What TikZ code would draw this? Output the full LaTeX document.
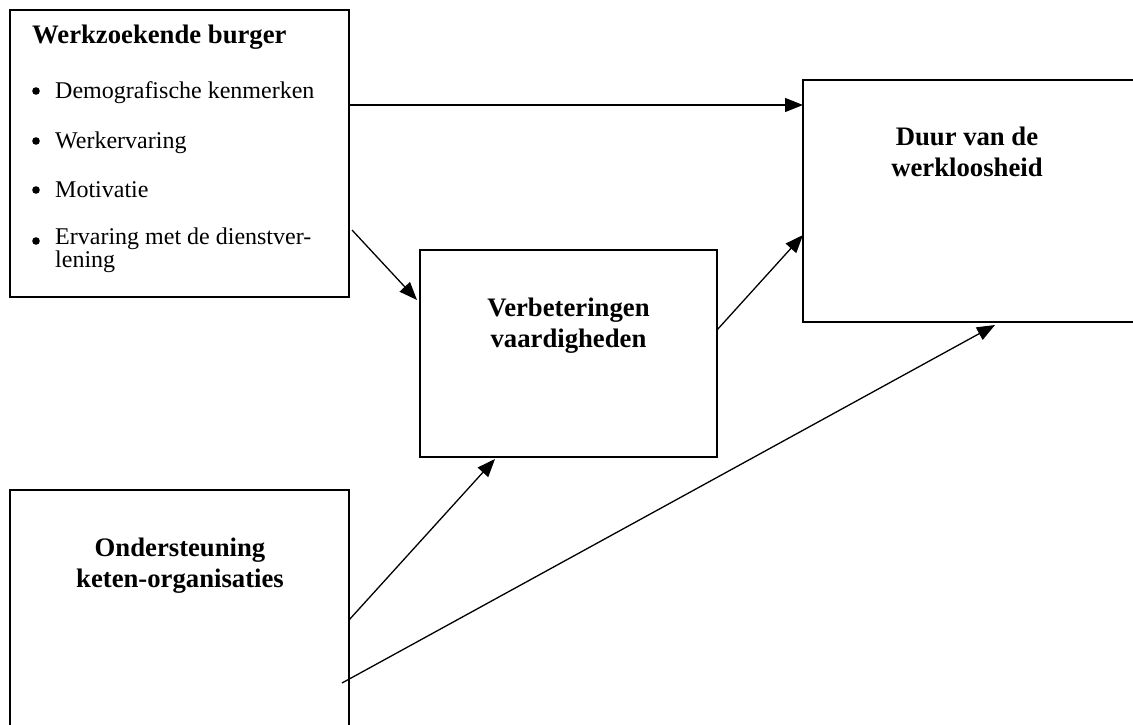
\documentclass[tikz,border=0pt]{standalone}
\usepackage{fontspec}
\setmainfont{Liberation Serif}
\usepackage{tikz}
\usetikzlibrary{arrows.meta,calc,positioning}

\begin{document}
\begin{tikzpicture}[x=1pt,y=-1pt,
    blok/.style={draw, line width=1.6pt, inner sep=0pt, outer sep=0pt},
    kop/.style={font=\fontsize{26.7}{31}\selectfont\bfseries, align=center, inner sep=0pt},
    punt/.style={font=\fontsize{24}{19}\selectfont, align=left, inner sep=0pt, anchor=base west},
    pijl/.style={line width=1.3pt, -{Triangle[length=18pt,width=14pt]}}]
  \useasboundingbox (0,0) rectangle (1133,724);

  % blokken
  \node[blok, minimum width=339pt, minimum height=287pt] (burger) at (179.5,153.5) {};
  \node[blok, minimum width=297pt, minimum height=207pt] (verb) at (568.5,353.5) {};
  \node[blok, minimum width=342pt, minimum height=242pt] (duur) at (974,201) {};
  \node[blok, minimum width=339pt, minimum height=260pt] (onder) at (179.5,620) {};

  % teksten (base = laatste regel)
  \node[kop, anchor=base west] (burgertitel) at (32,43) {Werkzoekende burger};
  \node[punt] (p1) at (55,98) {Demografische kenmerken};
  \node[punt] (p2) at (55,148) {Werkervaring};
  \node[punt] (p3) at (55,197) {Motivatie};
  \node[punt] (p4) at (55,267) {Ervaring met de dienstver-\\lening};
  \foreach \y in {91,141,190,241} {
    \fill[black] (36,\y) circle (3.8pt);
  }
  \node[kop, anchor=base] (verbtekst) at (568.5,347) {Verbeteringen\\vaardigheden};
  \node[kop, anchor=base] (duurtekst) at (967,176) {Duur van de\\werkloosheid};
  \node[kop, anchor=base] (ondertekst) at (180,587) {Ondersteuning\\keten-organisaties};

  % pijlen
  \draw[pijl] ([yshift=-95pt]burger.north east) -- ([yshift=-25pt]duur.north west);
  \draw[pijl] ([xshift=3pt,yshift=-220pt]burger.north east) -- ([xshift=-3pt,yshift=-50pt]verb.north west);
  \draw[pijl] ([yshift=-80pt]verb.north east) -- ([yshift=-155pt]duur.north west);
  \draw[pijl] ([yshift=-130pt]onder.north east) -- ([xshift=75pt,yshift=-2pt]verb.south west);
  \draw[pijl] ([xshift=-7pt,yshift=-193pt]onder.north east) -- ([xshift=192pt,yshift=-3pt]duur.south west);
\end{tikzpicture}
\end{document}
